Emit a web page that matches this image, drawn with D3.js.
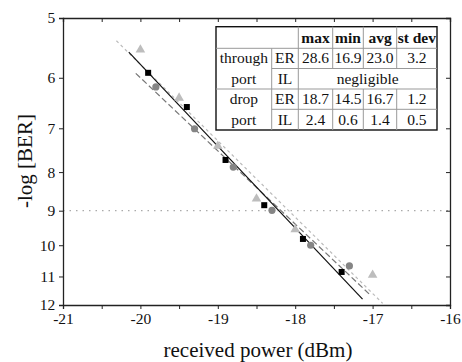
<!DOCTYPE html>
<html><head><meta charset="utf-8">
<script src="https://cdn.jsdelivr.net/npm/d3@7"></script>
<style>body{margin:0;background:#fff}svg{display:block}text{font-family:"Liberation Serif","DejaVu Serif",serif;fill:#111}</style>
</head><body><svg id="c" width="462" height="362"></svg>
<script>
// ---- data ----
const xTicks = [-21, -20, -19, -18, -17, -16];
const yTicks = [5, 6, 7, 8, 9, 10, 11, 12];
const thresholdBER = 9;

const powerSquares = [-19.9, -19.4, -18.9, -18.4, -17.9, -17.4];
const berSquares   = [5.91, 6.56, 7.71, 8.85, 9.81, 10.85];
const powerCircles = [-19.8, -19.3, -18.8, -18.3, -17.8, -17.3];
const berCircles   = [6.17, 7.01, 7.88, 8.99, 10.0, 10.65];
const powerTriangles = [-20.0, -19.5, -19.0, -18.5, -18.0, -17.0];
const berTriangles   = [5.51, 6.38, 7.39, 8.68, 9.53, 10.95];

const fitSquaresX = [-20.15, -17.13], fitSquaresY = [5.55, 11.79];
const fitCirclesX = [-20.06, -17.03], fitCirclesY = [5.92, 11.64];
const fitTrianglesX = [-20.31, -16.87], fitTrianglesY = [5.36, 11.94];

const tableHeader = ["max", "min", "avg", "st dev"];
const tableGroups = ["through port", "drop port"];
const throughER = ["28.6", "16.9", "23.0", "3.2"];
const throughIL = "negligible";
const dropER = ["18.7", "14.5", "16.7", "1.2"];
const dropIL = ["2.4", "0.6", "1.4", "0.5"];

(function () {
// ---- layout ----
const L = 63, R = 450, T = 18, B = 305;
const svg = d3.select("#c");
const x = d3.scaleLinear().domain([-21, -16]).range([L, R]);
const y = d3.scaleLog().domain([5, 12]).range([T, B]);

// threshold line
svg.append("line").attr("x1", L).attr("x2", R).attr("y1", y(thresholdBER)).attr("y2", y(thresholdBER))
  .attr("stroke", "#aaa").attr("stroke-width", 1.3).attr("stroke-dasharray", "1.5,5");

// axes
const minorX = d3.range(-21, -15.9, 0.5);
const gBottom = svg.append("g").attr("transform", `translate(0,${B})`)
  .call(d3.axisBottom(x).tickValues(minorX).tickSize(4).tickFormat(d => xTicks.includes(d) ? d : ""));
const gTop = svg.append("g").attr("transform", `translate(0,${T})`)
  .call(d3.axisBottom(x).tickValues(minorX).tickSize(4).tickFormat(""));
const gLeft = svg.append("g").attr("transform", `translate(${L},0)`)
  .call(d3.axisLeft(y).tickValues(yTicks).tickSize(4).tickFormat(d3.format("d")));
const gRight = svg.append("g").attr("transform", `translate(${R},0)`)
  .call(d3.axisLeft(y).tickValues(yTicks).tickSize(4).tickFormat(""));
[gBottom, gTop, gLeft, gRight].forEach(g => {
  g.attr("font-family", null);
  g.select(".domain").attr("stroke", "#222").attr("stroke-width", 1.3);
  g.selectAll(".tick line").attr("stroke", "#222").attr("stroke-width", 1);
  g.selectAll("text").attr("font-size", 15.5).attr("fill", "#111");
});
gBottom.selectAll("text").attr("dy", "0.78em");
gLeft.selectAll("text").attr("dx", "-0.05em");

// fit lines
function fitLine(xs, ys, stroke, dash, w) {
  svg.append("path").datum(xs.map((v, i) => [v, ys[i]]))
    .attr("d", d3.line().x(d => x(d[0])).y(d => y(d[1])))
    .attr("fill", "none").attr("stroke", stroke).attr("stroke-width", w)
    .attr("stroke-dasharray", dash);
}
fitLine(fitTrianglesX, fitTrianglesY, "#bbb", "3,3", 1.2);
fitLine(fitCirclesX, fitCirclesY, "#777", "6,3", 1.2);
fitLine(fitSquaresX, fitSquaresY, "#111", null, 1.2);

// markers
svg.append("g").selectAll("path").data(powerTriangles.map((v, i) => [v, berTriangles[i]])).join("path")
  .attr("d", d3.symbol(d3.symbolTriangle, 40)).attr("transform", d => `translate(${x(d[0])},${y(d[1])})`)
  .attr("fill", "#bdbdbd");
svg.append("g").selectAll("circle").data(powerCircles.map((v, i) => [v, berCircles[i]])).join("circle")
  .attr("cx", d => x(d[0])).attr("cy", d => y(d[1])).attr("r", 3.6).attr("fill", "#858585");
svg.append("g").selectAll("rect").data(powerSquares.map((v, i) => [v, berSquares[i]])).join("rect")
  .attr("x", d => x(d[0]) - 3).attr("y", d => y(d[1]) - 3).attr("width", 6).attr("height", 6).attr("fill", "#000");

// axis titles
svg.append("text").attr("x", 258).attr("y", 357).attr("text-anchor", "middle")
  .attr("font-size", 21).text("received power (dBm)");
svg.append("text").attr("transform", "translate(32,161) rotate(-90)").attr("text-anchor", "middle")
  .attr("font-size", 21).text("-log [BER]");

// table
const tx = [216, 271.7, 298.3, 332.7, 363.3, 396.7, 437];
const ty = [26.7, 48.3, 68.5, 89, 109.3, 130];
const tg = svg.append("g");
tg.append("rect").attr("x", tx[0]).attr("y", ty[0]).attr("width", tx[6] - tx[0]).attr("height", ty[5] - ty[0])
  .attr("fill", "#fff").attr("stroke", "#111").attr("stroke-width", 1.4);
const grid = [
  [tx[0], ty[1], tx[6], ty[1]], [tx[1], ty[2], tx[6], ty[2]], [tx[0], ty[3], tx[6], ty[3]], [tx[1], ty[4], tx[6], ty[4]],
  [tx[1], ty[1], tx[1], ty[5]], [tx[2], ty[0], tx[2], ty[5]],
  [tx[3], ty[0], tx[3], ty[2]], [tx[4], ty[0], tx[4], ty[2]], [tx[5], ty[0], tx[5], ty[2]],
  [tx[3], ty[3], tx[3], ty[5]], [tx[4], ty[3], tx[4], ty[5]], [tx[5], ty[3], tx[5], ty[5]]
];
tg.selectAll("line").data(grid).join("line")
  .attr("x1", d => d[0]).attr("y1", d => d[1]).attr("x2", d => d[2]).attr("y2", d => d[3])
  .attr("stroke", "#999").attr("stroke-width", 1);
const cx = i => (tx[i] + tx[i + 1]) / 2;
const cy = r => (ty[r] + ty[r + 1]) / 2 + 5;
function cell(t, xx, yy, bold) {
  tg.append("text").attr("x", xx).attr("y", yy).attr("text-anchor", "middle").attr("font-size", 15.5)
    .attr("font-weight", bold ? "bold" : "normal").text(t);
}
tableHeader.forEach((h, i) => cell(h, cx(i + 2), cy(0), true));
tableGroups.forEach((g, k) => {
  const parts = g.split(" ");
  cell(parts[0], cx(0), cy(1 + 2 * k), false);
  cell(parts[1], cx(0), cy(2 + 2 * k), false);
  cell("ER", cx(1), cy(1 + 2 * k), false);
  cell("IL", cx(1), cy(2 + 2 * k), false);
});
throughER.forEach((v, i) => cell(v, cx(i + 2), cy(1), false));
cell(throughIL, (tx[2] + tx[6]) / 2, cy(2), false);
dropER.forEach((v, i) => cell(v, cx(i + 2), cy(3), false));
dropIL.forEach((v, i) => cell(v, cx(i + 2), cy(4), false));
})();
</script></body></html>
